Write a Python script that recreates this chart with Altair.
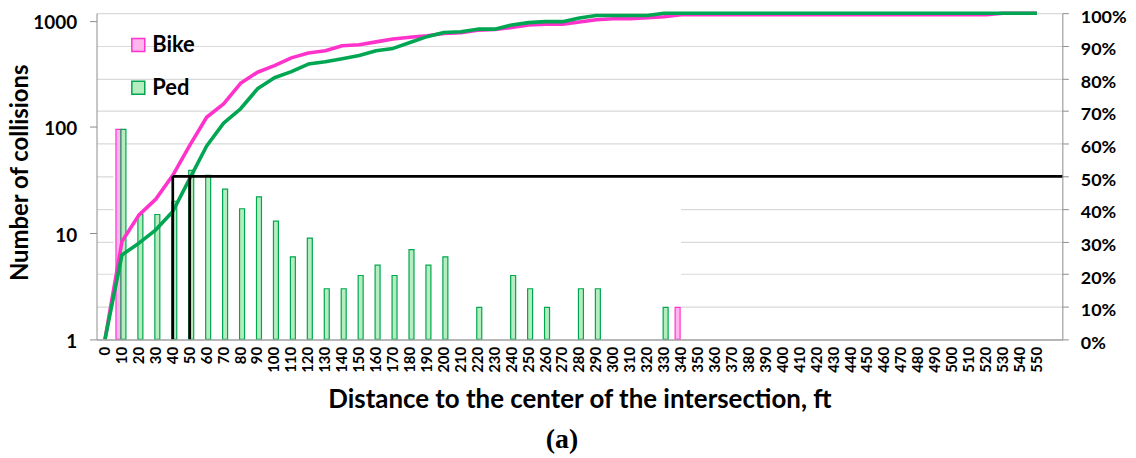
import altair as alt
import pandas as pd

# ---------------- data ----------------
distances = [str(v) for v in range(0, 560, 10)]

ped_counts = [None, 95, 15, 15, 20, 39, 35, 26, 17, 22, 13, 6, 9, 3, 3, 4, 5, 4, 7, 5,
              6, None, 2, None, 4, 3, 2, None, 3, 3, None, None, None, 2] + [None] * 22
bike_counts = [None, 95] + [None] * 32 + [2] + [None] * 21

bike_cum = [0, 30.0, 38.1, 43.0, 50.3, 59.5, 68.1, 72.2, 78.5, 81.9, 83.9, 86.3, 87.8,
            88.5, 90.0, 90.3, 91.2, 92.1, 92.6, 93.1, 93.8, 94.0, 94.8, 95.0, 95.6, 96.4,
            96.6, 96.6, 97.3, 98.0, 98.3, 98.3, 98.6, 98.9, 99.5] + [99.5] * 18 + [100] * 3
ped_cum = [0, 25.9, 29.5, 33.6, 39.2, 49.3, 59.3, 66.3, 70.7, 76.8, 80.2, 82.1, 84.4,
           85.1, 86.0, 87.0, 88.5, 89.2, 91.0, 92.8, 94.1, 94.3, 95.1, 95.1, 96.4, 97.1,
           97.4, 97.4, 98.5, 99.3, 99.3, 99.3, 99.3, 100] + [100] * 22

series_names = ["Bike", "Ped"]

# 50% reference lines (at 40 ft and 50 ft)
median_marks = ["40", "50"]
median_level = 0.5

rows = []
for name, counts, cum in [("Bike", bike_counts, bike_cum), ("Ped", ped_counts, ped_cum)]:
    for d, c, p in zip(distances, counts, cum):
        rows.append({"dist": d, "series": name, "count": c, "cum": p / 100.0})
df = pd.DataFrame(rows)

X_DOMAIN = distances + [" "]
FONT = "Lato"
W, H = 971, 328

xscale = alt.Scale(domain=X_DOMAIN, paddingInner=0, paddingOuter=0)
fill_scale = alt.Scale(domain=series_names, range=["#ffb6ec", "#b5edbf"])
stroke_scale = alt.Scale(domain=series_names, range=["#ff33cc", "#00a651"])
log_scale = alt.Scale(type="log", domain=[1, 1180], nice=False)
pct_scale = alt.Scale(domain=[0, 1], nice=False, zero=True)

xaxis = alt.Axis(
    title="Distance to the center of the intersection, ft",
    labelAngle=270, labelAlign="right", labelBaseline="middle", labelPadding=7,
    ticks=False, labelFontSize=15, titleFontSize=26, titleY=68,
    titleBaseline="alphabetic", domainColor="#a6a6a6", domainWidth=1.5,
    labelOverlap=False, grid=False, orient="bottom",
)
left_axis = alt.Axis(
    values=[1, 10, 100, 1000], format="d", title="Number of collisions",
    orient="left", labelFontSize=19, tickSize=7, tickColor="#8c8c8c",
    domainColor="#8c8c8c", labelPadding=13, labelOffset=2, grid=False, titleFontSize=24,
    titleX=-76, titleY=160, titleAngle=270, titleAlign="center",
    titleBaseline="middle",
)
right_axis = alt.Axis(
    values=[i / 10 for i in range(11)], format=".0%", orient="right", grid=True,
    gridColor="#d9d9d9", gridWidth=1.2, tickSize=6, tickColor="#8c8c8c",
    domainColor="#8c8c8c", labelPadding=12, labelFontSize=18, labelOffset=4, title=None,
)
legend = alt.Legend(
    orient="none", legendX=31, legendY=21, title=None, symbolType="square",
    symbolSize=169, symbolStrokeWidth=1.5, labelFont=FONT, labelFontSize=22,
    labelFontWeight="bold", labelColor="black", rowPadding=21, labelOffset=3,
    padding=0,
)

# white box that hides part of the gridlines in the original
box_df = pd.DataFrame({"x0": ["10"], "x1": ["340"], "y0": [0.0], "y1": [0.55]})
box = alt.Chart(box_df).mark_rect(color="white").encode(
    x=alt.X("x0:N", scale=xscale, axis=xaxis, bandPosition=0),
    x2=alt.X2("x1:N", bandPosition=0.5),
    y=alt.Y("y1:Q", scale=pct_scale, axis=None),
    y2="y0:Q",
)

bars_base = alt.Chart(df).transform_filter("datum.count != null")


def bar_layer(name, offset, yaxis):
    return bars_base.transform_filter(f"datum.series == '{name}'").mark_bar(
        width=5, xOffset=offset, strokeWidth=1.2
    ).encode(
        x=alt.X("dist:N", scale=xscale, axis=xaxis),
        y=alt.Y("count:Q", scale=log_scale, axis=yaxis),
        y2=alt.Y2Datum(1),
        fill=alt.Fill("series:N", scale=fill_scale, legend=legend),
        stroke=alt.Stroke("series:N", scale=stroke_scale, legend=legend),
    )


bike_bars = bar_layer("Bike", -3.5, left_axis)
ped_bars = bar_layer("Ped", 1.5, None)

lines = alt.Chart(df).transform_calculate(
    dist_idx="toNumber(datum.dist)"
).mark_line(strokeWidth=3.6, strokeJoin="round").encode(
    x=alt.X("dist:N", scale=xscale, axis=xaxis),
    y=alt.Y("cum:Q", scale=pct_scale, axis=right_axis),
    stroke=alt.Stroke("series:N", scale=stroke_scale, legend=None),
    order=alt.Order("dist_idx:Q"),
)

vrule_df = pd.DataFrame({"x": median_marks, "y": [median_level] * 2, "y0": [0.0] * 2})
vrules = alt.Chart(vrule_df).mark_rule(color="black", strokeWidth=2.7).encode(
    x=alt.X("x:N", scale=xscale, axis=xaxis),
    y=alt.Y("y:Q", scale=pct_scale, axis=None),
    y2="y0:Q",
)
hrule_df = pd.DataFrame({"x": [median_marks[0]], "x1": [" "], "y": [median_level]})
hrule = alt.Chart(hrule_df).mark_rule(color="black", strokeWidth=2.7).encode(
    x=alt.X("x:N", scale=xscale, axis=xaxis),
    x2=alt.X2("x1:N", bandPosition=1),
    y=alt.Y("y:Q", scale=pct_scale, axis=None),
)

caption = alt.Chart(pd.DataFrame({"t": ["(a)"]})).mark_text(
    font="Liberation Serif", fontSize=28, fontWeight="bold", color="black",
    align="center", baseline="alphabetic",
).encode(x=alt.value(468), y=alt.value(437), text="t:N")

chart = alt.layer(box, bike_bars, ped_bars, lines, vrules, hrule, caption).resolve_scale(
    y="independent"
).properties(
    width=W, height=H,
    autosize=alt.AutoSizeParams(type="none"),
    padding={"left": 89, "top": 4, "right": 66, "bottom": 116},
).configure_view(stroke=None).configure_axis(
    labelFont=FONT, titleFont=FONT, labelFontWeight="bold", titleFontWeight="bold",
    labelColor="black", titleColor="black",
)

chart.save("out.html", embed_options={"renderer": "svg", "actions": False})
